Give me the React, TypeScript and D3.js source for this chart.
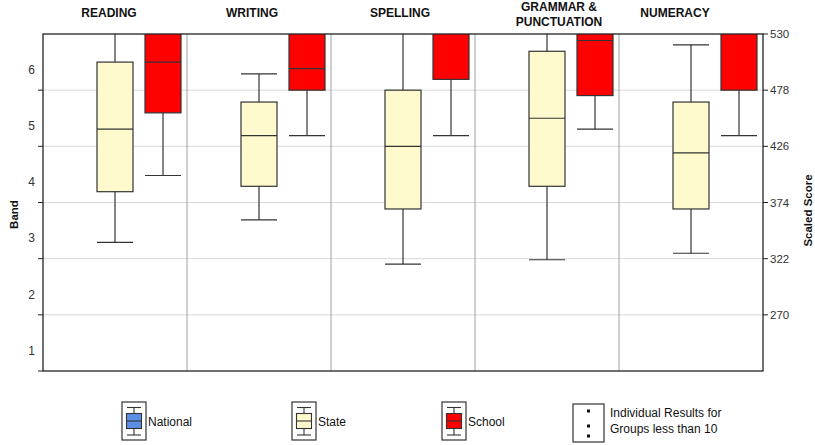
import React, { useRef, useEffect } from "react";
import * as d3 from "d3";

// subjects (title lines)
const subjects = ["READING", "WRITING", "SPELLING", "GRAMMAR & PUNCTUATION", "NUMERACY"];
const subjectLines = [["READING"], ["WRITING"], ["SPELLING"], ["GRAMMAR &", "PUNCTUATION"], ["NUMERACY"]];

// box stats per subject: [whiskerLow, q1, median, q3, whiskerHigh] in scaled score
const stateStats = [
  [337, 384, 442, 504, 560],
  [358, 389, 436, 467, 493],
  [317, 368, 426, 478, 560],
  [321, 389, 452, 514, 560],
  [327, 368, 420, 467, 520],
];
const schoolStats = [
  [399, 457, 504, 545, 575],
  [436, 478, 498, 545, 575],
  [436, 488, 540, 560, 580],
  [442, 473, 524, 545, 575],
  [436, 478, 540, 560, 580],
];

const groups = ["National", "State", "School"];
const groupColors = ["#5b8ee6", "#fffacd", "#ff0000"];

const scoreTicks = [530, 478, 426, 374, 322, 270];
const bandLabels = [1, 2, 3, 4, 5, 6];

const W = 815;
const H = 445;
const margin = { top: 34, right: 52, bottom: 74, left: 43 };
const font = "'Liberation Sans', Arial, sans-serif";
// titles are not quite centred over their panels in the original
const titleNudge = [-6, -7, -3, 12, -16];

const App: React.FC = () => {
  const ref = useRef<SVGSVGElement | null>(null);

  useEffect(() => {
    if (!ref.current) return;
    const svg = d3.select(ref.current);
    svg.selectAll("*").remove();

    const x0 = margin.left, x1 = W - margin.right;
    const y0 = margin.top, y1 = H - margin.bottom;

    const y = d3.scaleLinear().domain([218, 530]).range([y1, y0]);
    const bandY = d3.scaleLinear().domain([1, 6]).range([y(237), y(497)]);
    const xPanel = d3.scaleBand<string>().domain(subjects).range([x0, x1]);
    const xGroup = d3.scaleBand<string>().domain(groups).range([0, xPanel.bandwidth()])
      .paddingInner(0.25).paddingOuter(0.125);

    svg.append("defs").append("clipPath").attr("id", "plotclip")
      .append("rect").attr("x", x0).attr("y", y0).attr("width", x1 - x0).attr("height", y1 - y0);

    // horizontal grid
    svg.append("g").selectAll("line").data(scoreTicks.slice(1)).join("line")
      .attr("x1", x0).attr("x2", x1).attr("y1", d => y(d)).attr("y2", d => y(d))
      .attr("stroke", "#d9d9d9").attr("stroke-width", 1);

    // panel dividers
    svg.append("g").selectAll("line").data(subjects.slice(1)).join("line")
      .attr("x1", d => xPanel(d)!).attr("x2", d => xPanel(d)!)
      .attr("y1", y0).attr("y2", y1)
      .attr("stroke", "#a0a0a0").attr("stroke-width", 1);

    // boxes
    const plot = svg.append("g").attr("clip-path", "url(#plotclip)");
    const bw = xGroup.bandwidth();
    const series: [string, number[][]][] = [["State", stateStats], ["School", schoolStats]];
    series.forEach(([g, stats]) => {
      const color = groupColors[groups.indexOf(g)];
      subjects.forEach((s, i) => {
        const [lo, q1, med, q3, hi] = stats[i];
        const bx = xPanel(s)! + xGroup(g)!;
        const cx = bx + bw / 2;
        const gg = plot.append("g").attr("stroke", "#333").attr("stroke-width", 1.2);
        gg.append("line").attr("x1", cx).attr("x2", cx).attr("y1", y(hi)).attr("y2", y(lo));
        gg.append("line").attr("x1", bx).attr("x2", bx + bw).attr("y1", y(hi)).attr("y2", y(hi));
        gg.append("line").attr("x1", bx).attr("x2", bx + bw).attr("y1", y(lo)).attr("y2", y(lo));
        gg.append("rect").attr("x", bx).attr("width", bw)
          .attr("y", y(q3)).attr("height", y(q1) - y(q3)).attr("fill", color);
        gg.append("line").attr("x1", bx).attr("x2", bx + bw).attr("y1", y(med)).attr("y2", y(med));
      });
    });

    // frame
    svg.append("rect").attr("x", x0).attr("y", y0).attr("width", x1 - x0).attr("height", y1 - y0)
      .attr("fill", "none").attr("stroke", "#222").attr("stroke-width", 1.3);

    // left axis ticks & band labels
    svg.append("g").selectAll("line").data([...scoreTicks.slice(1), 218]).join("line")
      .attr("x1", x0 - 5).attr("x2", x0).attr("y1", d => y(d)).attr("y2", d => y(d))
      .attr("stroke", "#222");
    svg.append("g").selectAll("text").data(bandLabels).join("text")
      .attr("x", 35).attr("y", d => bandY(d)).attr("dy", "0.35em")
      .attr("text-anchor", "end").attr("font-family", font).attr("font-size", 12).attr("fill", "#333")
      .text(d => d);

    // right axis
    svg.append("g").selectAll("line").data(scoreTicks).join("line")
      .attr("x1", x1).attr("x2", x1 + 5).attr("y1", d => y(d)).attr("y2", d => y(d))
      .attr("stroke", "#222");
    svg.append("g").selectAll("text").data(scoreTicks).join("text")
      .attr("x", x1 + 7).attr("y", d => y(d)).attr("dy", "0.35em")
      .attr("font-family", font).attr("font-size", 11.5).attr("fill", "#333")
      .text(d => d);

    // axis titles
    svg.append("text").attr("transform", `translate(18,${(y0 + y1) / 2 + 12}) rotate(-90)`)
      .attr("text-anchor", "middle").attr("font-family", font).attr("font-size", 11.5)
      .attr("font-weight", "bold").attr("fill", "#111").text("Band");
    svg.append("text").attr("transform", `translate(812,${(y0 + y1) / 2 + 8}) rotate(-90)`)
      .attr("text-anchor", "middle").attr("font-family", font).attr("font-size", 11.5)
      .attr("font-weight", "bold").attr("fill", "#111").text("Scaled Score");

    // panel titles
    subjects.forEach((s, i) => {
      const lines = subjectLines[i];
      const cx = xPanel(s)! + xPanel.bandwidth() / 2 + titleNudge[i];
      const t = svg.append("text").attr("x", cx).attr("text-anchor", "middle")
        .attr("font-family", font).attr("font-size", 12).attr("font-weight", "bold").attr("fill", "#111");
      lines.forEach((l, j) => {
        t.append("tspan").attr("x", cx)
          .attr("y", lines.length === 1 ? 17 : 11 + j * 15).text(l);
      });
    });

    // legend
    const legendX = [122, 292, 442];
    groups.forEach((g, i) => {
      const lg = svg.append("g").attr("transform", `translate(${legendX[i]},402)`);
      lg.append("rect").attr("x", 0).attr("y", 0).attr("width", 24).attr("height", 38)
        .attr("fill", "#fff").attr("stroke", "#333").attr("stroke-width", 1.2);
      const ic = lg.append("g").attr("stroke", "#333").attr("stroke-width", 1.1);
      ic.append("line").attr("x1", 12).attr("x2", 12).attr("y1", 5.5).attr("y2", 33);
      ic.append("line").attr("x1", 5).attr("x2", 19).attr("y1", 5.5).attr("y2", 5.5);
      ic.append("line").attr("x1", 5).attr("x2", 19).attr("y1", 33).attr("y2", 33);
      ic.append("rect").attr("x", 4.5).attr("y", 11.5).attr("width", 15).attr("height", 15)
        .attr("fill", groupColors[i]);
      ic.append("line").attr("x1", 4.5).attr("x2", 19.5).attr("y1", 19).attr("y2", 19);
      lg.append("text").attr("x", 26).attr("y", 24).attr("font-family", font)
        .attr("font-size", 12).attr("fill", "#111").text(g);
    });
    const ind = svg.append("g").attr("transform", "translate(573,404)");
    ind.append("rect").attr("width", 31).attr("height", 38).attr("fill", "#fff")
      .attr("stroke", "#333").attr("stroke-width", 1.2);
    ind.selectAll("rect.dot").data([7, 22, 32]).join("rect").attr("class", "dot")
      .attr("x", 14).attr("y", d => d - 1.5).attr("width", 3).attr("height", 3).attr("fill", "#111");
    ind.append("text").attr("x", 37).attr("y", 13).attr("font-family", font).attr("font-size", 12)
      .attr("fill", "#111").text("Individual Results for");
    ind.append("text").attr("x", 37).attr("y", 29).attr("font-family", font).attr("font-size", 12)
      .attr("fill", "#111").text("Groups less than 10");

    return () => {
      svg.selectAll("*").remove();
    };
  }, []);

  return (
    <svg ref={ref} width={W} height={H}
      style={{ position: "absolute", left: 0, top: 0, background: "#fff" }} />
  );
};

export default App;
